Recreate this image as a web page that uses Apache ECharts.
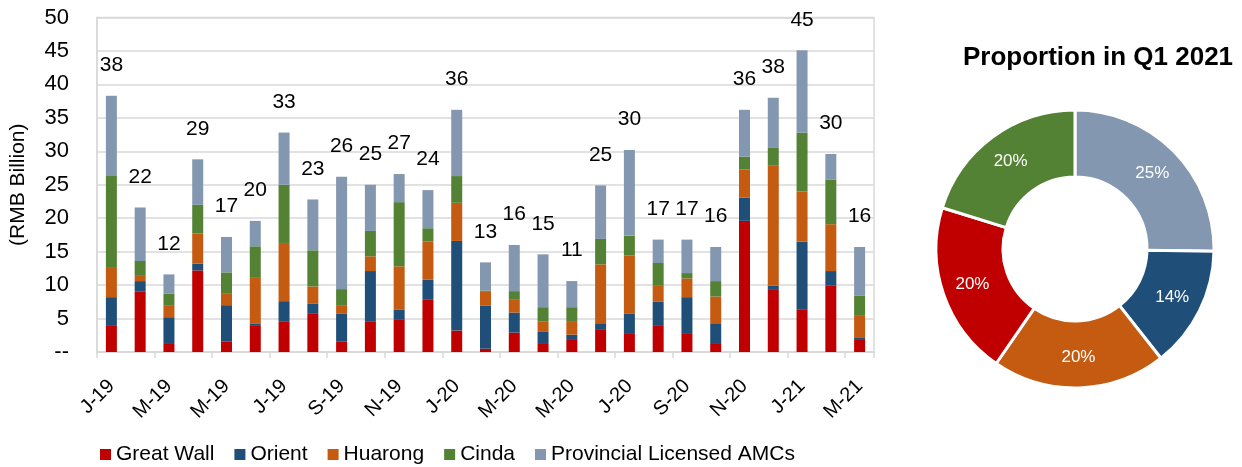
<!DOCTYPE html>
<html>
<head>
<meta charset="utf-8">
<script src="https://cdn.jsdelivr.net/npm/echarts@6/dist/echarts.min.js"></script>
<style>
html,body{margin:0;padding:0;background:#fff;}
#chart{width:1242px;height:467px;}
</style>
</head>
<body>
<div id="chart"></div>
<script>
const months = ['Jan-19','Feb-19','Mar-19','Apr-19','May-19','Jun-19','Jul-19','Aug-19','Sep-19','Oct-19','Nov-19','Dec-19',
  'Jan-20','Feb-20','Mar-20','Apr-20','May-20','Jun-20','Jul-20','Aug-20','Sep-20','Oct-20','Nov-20','Dec-20',
  'Jan-21','Feb-21','Mar-21'];
const tickLabels = ['J-19','F-19','M-19','A-19','M-19','J-19','J-19','A-19','S-19','O-19','N-19','D-19',
  'J-20','F-20','M-20','A-20','M-20','J-20','J-20','A-20','S-20','O-20','N-20','D-20',
  'J-21','F-21','M-21'];
const greatWall = [3.9, 9.0, 1.2, 12.2, 1.6, 3.9, 4.6, 5.8, 1.6, 4.6, 4.8, 7.8, 3.2, 0.5, 2.9, 1.2, 1.8, 3.3, 2.7, 3.9, 2.7, 1.2, 19.6, 9.4, 6.3, 9.9, 1.8];
const orient    = [4.3, 1.6, 4.0, 1.0, 5.4, 0.3, 3.0, 1.4, 4.1, 7.5, 1.5, 3.0, 13.4, 6.4, 3.0, 1.8, 0.8, 1.0, 3.0, 3.6, 5.5, 3.1, 3.5, 0.5, 10.2, 2.2, 0.4];
const huarong   = [4.5, 0.9, 1.7, 4.5, 1.8, 7.0, 8.7, 2.6, 1.2, 2.2, 6.5, 5.7, 5.7, 2.2, 1.9, 1.6, 1.9, 8.8, 8.7, 2.5, 2.8, 4.0, 4.2, 18.0, 7.5, 7.0, 3.2];
const cinda     = [13.6, 2.1, 1.8, 4.3, 3.1, 4.6, 8.7, 5.4, 2.5, 3.8, 9.6, 2.0, 4.0, 0.1, 1.3, 2.1, 2.2, 3.8, 3.0, 3.3, 0.8, 2.3, 1.9, 2.6, 8.8, 6.7, 3.0];
const provincial= [12.0, 8.0, 2.9, 6.8, 5.3, 3.8, 7.8, 7.6, 16.8, 6.9, 4.2, 5.7, 9.9, 4.2, 6.9, 7.9, 3.9, 8.0, 12.8, 3.5, 5.0, 5.1, 7.0, 7.5, 12.3, 3.8, 7.3];
const seriesNames = ['Great Wall','Orient','Huarong','Cinda','Provincial Licensed AMCs'];
const pieNames  = ['Provincial Licensed AMCs','Orient','Huarong','Great Wall','Cinda'];
const pieValues = [25, 14, 20, 20, 20];

const colors = {
  'Great Wall':'#C00000',
  'Orient':'#1F4E79',
  'Huarong':'#C55A11',
  'Cinda':'#548235',
  'Provincial Licensed AMCs':'#8497B0'
};
const FONT = "'Liberation Sans', Arial, sans-serif";
const totals = months.map((m,i)=> greatWall[i]+orient[i]+huarong[i]+cinda[i]+provincial[i]);
const dataSets = [greatWall, orient, huarong, cinda, provincial];

const chart = echarts.init(document.getElementById('chart'), null, {renderer:'canvas'});
const barSeries = seriesNames.map((name, k) => ({
  name: name,
  type: 'bar',
  stack: 'total',
  barWidth: 11,
  itemStyle: {color: colors[name]},
  data: dataSets[k],
  label: k === 4 ? {
    show: true,
    position: 'top',
    distance: 20,
    fontFamily: FONT,
    fontSize: 21,
    color: '#000',
    formatter: p => String(Math.round(totals[p.dataIndex]))
  } : {show:false}
}));

chart.setOption({
  animation: false,
  textStyle: {fontFamily: FONT},
  title: {
    text: 'Proportion in Q1 2021',
    left: 1093,
    top: 40,
    textAlign: 'center',
    textStyle: {fontFamily: FONT, fontSize: 26, fontWeight: 'bold', color: '#000'}
  },
  legend: {
    data: seriesNames,
    left: 95,
    top: 439,
    icon: 'rect',
    itemWidth: 11,
    itemHeight: 11,
    itemGap: 20,
    textStyle: {fontFamily: FONT, fontSize: 21, color: '#000'}
  },
  grid: {
    left: 95, right: 368, top: 17.5, bottom: 115,
    show: true, borderColor: '#D9D9D9', borderWidth: 1.5,
    containLabel: false
  },
  xAxis: {
    type: 'category',
    data: months,
    axisLine: {lineStyle: {color: '#D9D9D9', width: 1.5}},
    axisTick: {show: true, interval: 1, length: 6, lineStyle: {color: '#D9D9D9', width: 1.5}},
    axisLabel: {
      interval: 1, rotate: 45, margin: 31,
      fontFamily: FONT, fontSize: 20, color: '#000',
      formatter: (v, i) => tickLabels[i]
    }
  },
  yAxis: {
    type: 'value',
    min: 0, max: 50, interval: 5,
    name: '(RMB Billion)',
    nameLocation: 'middle',
    nameGap: 68,
    nameTextStyle: {fontFamily: FONT, fontSize: 21, color: '#000'},
    axisLine: {show: true, lineStyle: {color: '#D9D9D9', width: 1.5}},
    axisTick: {show: false},
    splitLine: {lineStyle: {color: '#D9D9D9', width: 1.5}},
    axisLabel: {
      margin: 28, fontFamily: FONT, fontSize: 22, color: '#000',
      formatter: v => v === 0 ? '--' : String(v)
    }
  },
  series: barSeries.concat([{
    name: 'Q1 2021',
    type: 'pie',
    center: [1075, 249],
    radius: [72, 139],
    startAngle: 90,
    clockwise: true,
    legendHoverLink: false,
    itemStyle: {borderColor: '#fff', borderWidth: 3},
    label: {
      show: true, position: 'inside',
      fontFamily: FONT, fontSize: 17, color: '#fff',
      formatter: p => p.value + '%'
    },
    labelLine: {show: false},
    data: pieNames.map((n, i) => ({name: n, value: pieValues[i], itemStyle: {color: colors[n]}}))
  }])
});
</script>
</body>
</html>
